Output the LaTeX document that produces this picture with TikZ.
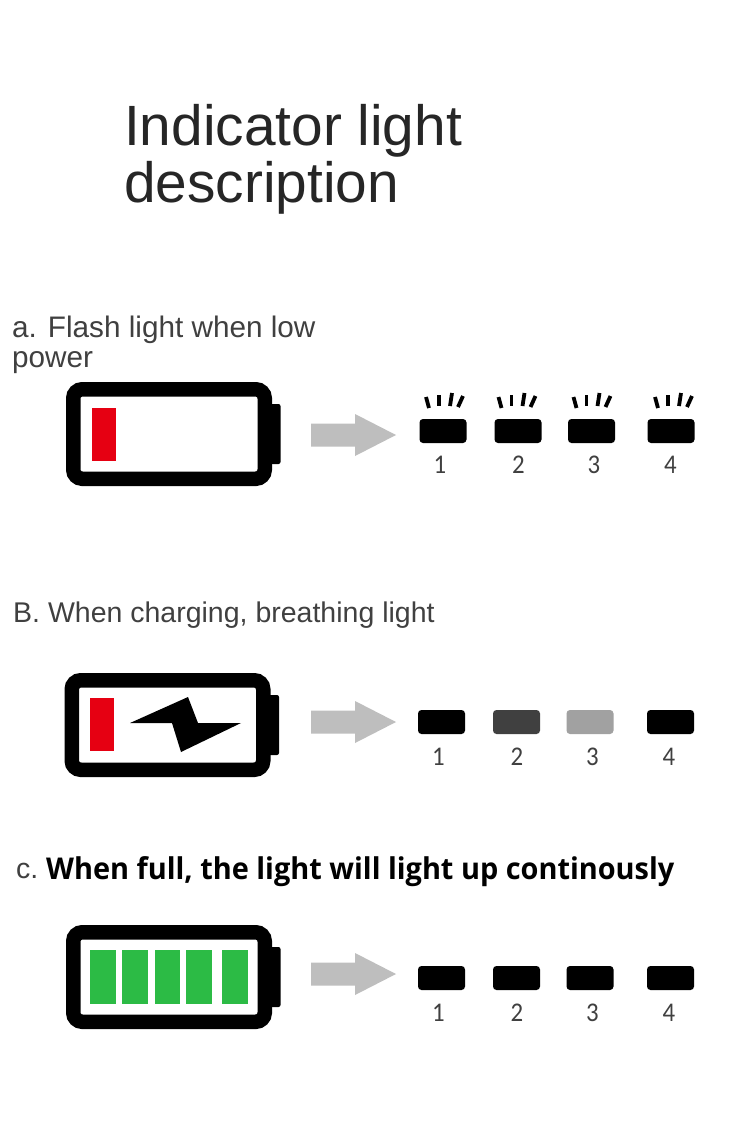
\documentclass[tikz,border=0pt]{standalone}
\usepackage{fontspec}
\setmainfont{Liberation Sans}
\newfontfamily\numfont[FakeStretch=0.92]{Carlito}
\newfontfamily\boldfont[FakeStretch=0.963]{Open Sans}
\definecolor{batred}{HTML}{E60012}
\definecolor{batgreen}{HTML}{2CBB45}
\definecolor{arrowgray}{HTML}{BEBEBE}
\tikzset{
	titletext/.style={anchor=base west,inner sep=0pt,text=black!85,font=\fontsize{56.8}{57}\selectfont,align=left},
	steptext/.style={anchor=base west,inner sep=0pt,text=black!75,font=\fontsize{#1}{30}\selectfont,align=left},
	fulltext/.style={anchor=base west,inner sep=0pt,text=black,font=\boldfont\bfseries\fontsize{30}{30}\selectfont},
	numtext/.style={anchor=center,inner sep=0pt,text=black!75,font=\numfont\fontsize{27}{27}\selectfont},
	lamp/.style={fill=#1,rounded corners=3.5pt},
	tick/.style={line width=3.8pt},
}
% battery body, x and y are the top left corner
\newcommand{\batbody}[2]{
	\draw[line width=14.5pt,rounded corners=9pt] (#1+7.25,#2+7.25) rectangle (#1+198.75,#2+96.75);
	\fill[rounded corners=2pt] (#1+200,#2+22) rectangle (#1+214.5,#2+82);
}
% grey arrow, y is the middle
\newcommand{\grayarrow}[1]{
	\fill[arrowgray] (311,#1-11.5) -- (355,#1-11.5) -- (355,#1-21) -- (396,#1) -- (355,#1+21) -- (355,#1+11.5) -- (311,#1+11.5) -- cycle;
}
\begin{document}
\begin{tikzpicture}[x=1pt,y=-1pt]
	\useasboundingbox[fill=white] (0,0) rectangle (750,1125);
	\node [titletext] (title) at (124,202) {Indicator light\\description};
	\node [steptext=29.7] (stepa) at (12,367) {a. Flash light when low\\power};
	\node [steptext=28.5] (stepb) at (13,622) {B. When charging, breathing light};
	\node [steptext=28.5] (stepc) at (16,878) {c.};
	\node [fulltext] (full) at (46,879) {When full, the light will light up continously};

	% a
	\batbody{66}{382}
	\fill[batred] (91.5,407.5) rectangle (115.5,460.5);
	\grayarrow{435}
	\foreach \x/\s/\t/\n in {443/0/440/1,518/-2.5/518.5/2,591.5/-1/594/3,671/1/670.5/4} {
		\fill[lamp=black] (\x-23.5,419) rectangle (\x+23.5,443);
		\draw[tick] (\x+\s-17,397) -- (\x+\s-14,408);
		\draw[tick] (\x+\s-4,395) -- (\x+\s-4,406);
		\draw[tick] (\x+\s+9,393) -- (\x+\s+7,406);
		\draw[tick] (\x+\s+20,396) -- (\x+\s+15,407);
		\node [numtext] (a\n) at (\t,465) {\n};
	}

	% b
	\batbody{64.5}{673}
	\fill[batred] (90,698) rectangle (114,751);
	\fill (130,723) -- (188,697) -- (198,723) -- (241,723) -- (181,752) -- (172,723) -- cycle;
	\grayarrow{722}
	\foreach \x/\c/\t/\n in {441.5/black/438.5/1,516.5/black!75/517/2,590/black!37/592.5/3,670.5/black/669/4} {
		\fill[lamp=\c] (\x-23.5,710) rectangle (\x+23.5,734);
		\node [numtext] (b\n) at (\t,757) {\n};
	}

	% c
	\batbody{66}{925}
	\foreach \x in {90,122,154.5,186,222}
		\fill[batgreen] (\x,950) rectangle (\x+25.5,1004);
	\grayarrow{974}
	\foreach \x/\t/\n in {441.5/438.5/1,516.5/517/2,590/592.5/3,670.5/669/4} {
		\fill[lamp=black] (\x-23.5,966) rectangle (\x+23.5,990);
		\node [numtext] (c\n) at (\t,1013) {\n};
	}
\end{tikzpicture}
\end{document}
